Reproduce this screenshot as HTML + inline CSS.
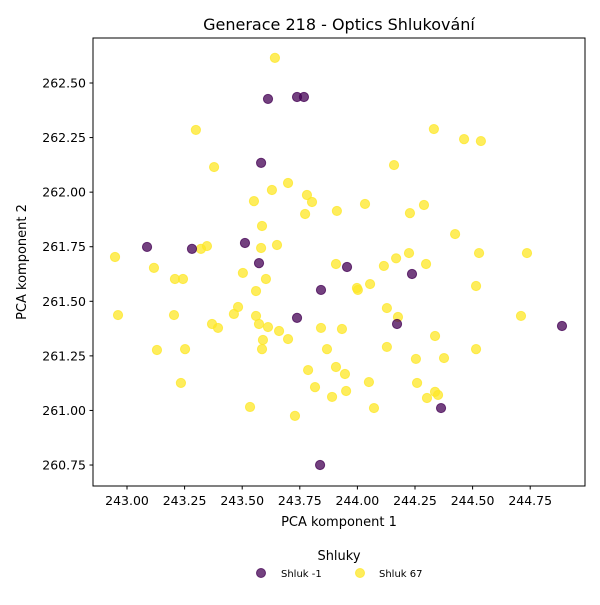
<!DOCTYPE html>
<html><head><meta charset="utf-8"><style>
body{margin:0;background:#fff;}
svg text{font-family:"DejaVu Sans","Liberation Sans",sans-serif;fill:#000;}
</style></head><body>
<svg id="chart" width="600" height="600" viewBox="0 0 600 600" xmlns="http://www.w3.org/2000/svg">
<rect width="600" height="600" fill="#fff"/>
<text x="339" y="30" font-size="16" text-anchor="middle">Generace 218 - Optics Shlukování</text>
<g id="ticks"></g>
<g id="points"></g>
<rect x="93" y="38" width="492" height="448" fill="none" stroke="#000" stroke-width="1"/>
<text x="339" y="526" font-size="13" text-anchor="middle">PCA komponent 1</text>
<text transform="translate(26,262) rotate(-90)" font-size="13" text-anchor="middle">PCA komponent 2</text>
<g>
<text x="339" y="560" font-size="13" text-anchor="middle">Shluky</text>
<circle cx="261" cy="573" r="4.5" fill="#440154" fill-opacity="0.75" stroke="#440154" stroke-opacity="0.75"/>
<text x="281" y="577" font-size="10">Shluk -1</text>
<circle cx="360" cy="573" r="4.5" fill="#fde725" fill-opacity="0.75" stroke="#fde725" stroke-opacity="0.75"/>
<text x="379" y="577" font-size="10">Shluk 67</text>
</g>
</svg>
<script>
const xTicks=[243.00,243.25,243.50,243.75,244.00,244.25,244.50,244.75];
const yTicks=[260.75,261.00,261.25,261.50,261.75,262.00,262.25,262.50];
const noiseX=[243.612,243.738,243.768,243.582,243.087,243.282,243.512,243.573,243.955,243.842,244.237,243.738,244.172,244.888,244.363,243.838];
const noiseY=[262.427,262.436,262.436,262.134,261.749,261.740,261.767,261.675,261.657,261.552,261.625,261.424,261.396,261.387,261.011,260.750];
const clusterX=[243.642,243.299,243.378,243.551,243.629,243.699,243.781,243.803,243.773,243.911,243.586,244.033,244.159,244.228,244.289,244.332,244.463,244.536,244.424,242.948,243.117,243.208,243.243,243.321,243.347,243.582,243.651,243.907,243.503,243.603,243.560,243.482,243.464,242.961,243.204,243.369,243.395,243.560,243.573,243.612,243.660,243.699,243.590,243.586,243.252,243.130,243.234,243.842,243.933,243.868,243.786,243.816,243.907,243.946,243.890,243.951,243.998,244.002,244.055,244.115,244.168,244.224,244.298,244.128,244.176,244.128,244.050,244.072,244.254,244.259,244.302,244.337,244.350,244.337,244.376,244.515,244.528,244.515,244.736,244.710,243.534,243.729];
const clusterY=[262.615,262.285,262.115,261.959,262.010,262.042,261.987,261.955,261.900,261.914,261.845,261.946,262.124,261.904,261.941,262.289,262.243,262.234,261.808,261.703,261.653,261.602,261.602,261.740,261.753,261.744,261.758,261.671,261.630,261.602,261.547,261.474,261.442,261.437,261.437,261.396,261.378,261.433,261.396,261.382,261.364,261.327,261.323,261.281,261.281,261.277,261.126,261.378,261.373,261.281,261.185,261.107,261.199,261.167,261.062,261.089,261.561,261.552,261.579,261.662,261.697,261.721,261.671,261.469,261.428,261.291,261.130,261.011,261.236,261.126,261.057,261.085,261.071,261.341,261.240,261.570,261.721,261.281,261.721,261.433,261.016,260.975];
const NS='http://www.w3.org/2000/svg';
function sx(v){return 127+(v-243)*230.4;}
function sy(v){return 83+(262.5-v)*218.3;}
const tg=document.getElementById('ticks');
xTicks.forEach(t=>{
  const l=document.createElementNS(NS,'line');
  
  
  l.setAttribute('x1',sx(t));l.setAttribute('x2',sx(t));l.setAttribute('y1',486);l.setAttribute('y2',489.5);l.setAttribute('stroke','#000');
  tg.appendChild(l);
  const tx=document.createElementNS(NS,'text');
  
  
  tx.setAttribute('x',sx(t));tx.setAttribute('y',505);tx.setAttribute('font-size','12.5');tx.setAttribute('text-anchor','middle');
  tx.textContent=t.toFixed(2);tg.appendChild(tx);
});
yTicks.forEach(t=>{
  const l=document.createElementNS(NS,'line');
  
  
  l.setAttribute('x1',89.5);l.setAttribute('x2',93);l.setAttribute('y1',sy(t));l.setAttribute('y2',sy(t));l.setAttribute('stroke','#000');
  tg.appendChild(l);
  const tx=document.createElementNS(NS,'text');
  
  
  tx.setAttribute('x',86);tx.setAttribute('y',sy(t)+4.5);tx.setAttribute('font-size','12.5');tx.setAttribute('text-anchor','end');
  tx.textContent=t.toFixed(2);tg.appendChild(tx);
});
const pg=document.getElementById('points');
function draw(xs,ys,color,name){
  xs.forEach((x,i)=>{
    const c=document.createElementNS(NS,'circle');
    
    
    c.setAttribute('cx',sx(x));c.setAttribute('cy',sy(ys[i]));c.setAttribute('r',4.6);
    c.setAttribute('fill',color);c.setAttribute('fill-opacity','0.75');
    c.setAttribute('stroke',color);c.setAttribute('stroke-opacity','0.75');
    pg.appendChild(c);
  });
}
draw(clusterX,clusterY,'#fde725','cluster-67-point');
draw(noiseX,noiseY,'#440154','noise-point');
</script>
</body></html>
